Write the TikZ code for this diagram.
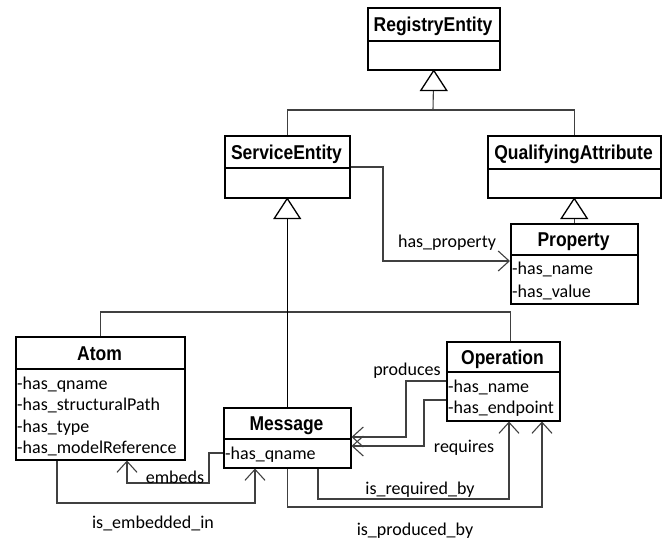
\documentclass[tikz,border=0pt]{standalone}
\usepackage{fontspec}
\setmainfont{Carlito}
\newfontfamily\headfont{Liberation Sans}[FakeStretch=0.875]
\usetikzlibrary{arrows.meta,calc}

\tikzset{
  classbox/.style={draw=black, line width=1.5pt, fill=white, inner sep=0pt, anchor=north west},
  divider/.style={draw=black, line width=1.3pt},
  classname/.style={font=\headfont\bfseries\fontsize{20}{22}\selectfont, anchor=base, inner sep=0pt},
  attr/.style={font=\fontsize{18}{21}\selectfont, anchor=base west, inner sep=0pt},
  rolelabel/.style={font=\fontsize{18}{21}\selectfont, anchor=base, inner sep=0pt},
  wire/.style={draw=black!75, line width=1.1pt},
  hollowtri/.style={draw=black, line width=1.3pt, fill=white, line join=miter},
  assoc/.style={wire, -{Straight Barb[length=11pt, width=20pt]}},
}
% open generalization triangle hanging below a class box: apex at #1
\newcommand\gentri[1]{\draw[hollowtri] (#1) -- ++(-13,20) -- ++(26,0) -- cycle;}

\begin{document}
\begin{tikzpicture}[x=1pt, y=-1pt]
  \useasboundingbox (0,0) rectangle (665,539);

  % class boxes
  \node[classbox, minimum width=132pt, minimum height=62pt] (re) at (367,7) {};
  \draw[divider] (re.west |- 0,41) -- (re.east |- 0,41);
  \node[classname] (re-n) at (433,31.5) {RegistryEntity};

  \node[classbox, minimum width=125pt, minimum height=62pt] (se) at (224,135) {};
  \draw[divider] (se.west |- 0,168) -- (se.east |- 0,168);
  \node[classname] (se-n) at (286.5,159) {ServiceEntity};

  \node[classbox, minimum width=173pt, minimum height=62pt] (qa) at (487,135) {};
  \draw[divider] (qa.west |- 0,169) -- (qa.east |- 0,169);
  \node[classname] (qa-n) at (573.5,159.5) {QualifyingAttribute};

  \node[classbox, minimum width=127pt, minimum height=80pt] (pr) at (510,223) {};
  \draw[divider] (pr.west |- 0,255) -- (pr.east |- 0,255);
  \node[classname] (pr-n) at (573.5,246.5) {Property};
  \node[attr] (pr-a1) at (512,274) {-has\_name};
  \node[attr] (pr-a2) at (512,297) {-has\_value};

  \node[classbox, minimum width=169pt, minimum height=123pt] (atom) at (15,336) {};
  \draw[divider] (atom.west |- 0,369) -- (atom.east |- 0,369);
  \node[classname] (atom-n) at (99.5,360) {Atom};
  \node[attr] (atom-a1) at (17,389) {-has\_qname};
  \node[attr] (atom-a2) at (17,410.5) {-has\_structuralPath};
  \node[attr] (atom-a3) at (17,432) {-has\_type};
  \node[attr] (atom-a4) at (17,453.5) {-has\_modelReference};

  \node[classbox, minimum width=127pt, minimum height=60pt] (msg) at (223,407) {};
  \draw[divider] (msg.west |- 0,439) -- (msg.east |- 0,439);
  \node[classname] (msg-n) at (286.5,430.5) {Message};
  \node[attr] (msg-a1) at (225,459) {-has\_qname};

  \node[classbox, minimum width=113pt, minimum height=79pt] (op) at (446,341) {};
  \draw[divider] (op.west |- 0,372) -- (op.east |- 0,372);
  \node[classname] (op-n) at (502.5,364) {Operation};
  \node[attr] (op-a1) at (448,392) {-has\_name};
  \node[attr] (op-a2) at (448,413) {-has\_endpoint};

  % generalizations
  \coordinate (jtop) at (433,110);
  \coordinate (jbot) at (287,312);
  \draw[wire] (se.north) |- (jtop) -| (qa.north);
  \draw[wire] (jtop) -- (re.south);
  \gentri{re.south}
  \draw[wire] (pr.north) -- (qa.south);
  \gentri{qa.south}
  \draw[wire] (atom.north) |- (jbot) -| ($(op.north)+(7,0)$);
  \draw[wire, draw=black] (msg.north) -- (se.south);
  \gentri{se.south}

  % associations
  \draw[assoc] (se.east |- 0,167) -| (383,261) -- (pr.west |- 0,261);
  \node[rolelabel] (l-hp) at (447,247) {has\_property};

  \draw[assoc] (msg.west |- 0,453) -| (209,483) -| (atom.south -| 127,0);
  \node[rolelabel] (l-emb) at (175,483) {embeds};

  \draw[assoc] (atom.south -| 57,0) |- (255,503) -- (msg.south -| 255,0);
  \node[rolelabel] (l-embin) at (153,528) {is\_embedded\_in};

  \draw[assoc] (op.west |- 0,381) -| (406,437) -- (msg.east |- 0,437);
  \node[rolelabel] (l-prod) at (407,375) {produces};

  \draw[assoc] (op.west |- 0,400) -| (424,446) -- (msg.east |- 0,446);
  \node[rolelabel] (l-req) at (464,452) {requires};

  \draw[assoc] (msg.south -| 318,0) |- (509,499) -- (op.south -| 509,0);
  \node[rolelabel] (l-reqby) at (420,494) {is\_required\_by};

  \draw[assoc] (msg.south) |- (542,507) -- (op.south -| 542,0);
  \node[rolelabel] (l-prodby) at (415,535) {is\_produced\_by};
\end{tikzpicture}
\end{document}
